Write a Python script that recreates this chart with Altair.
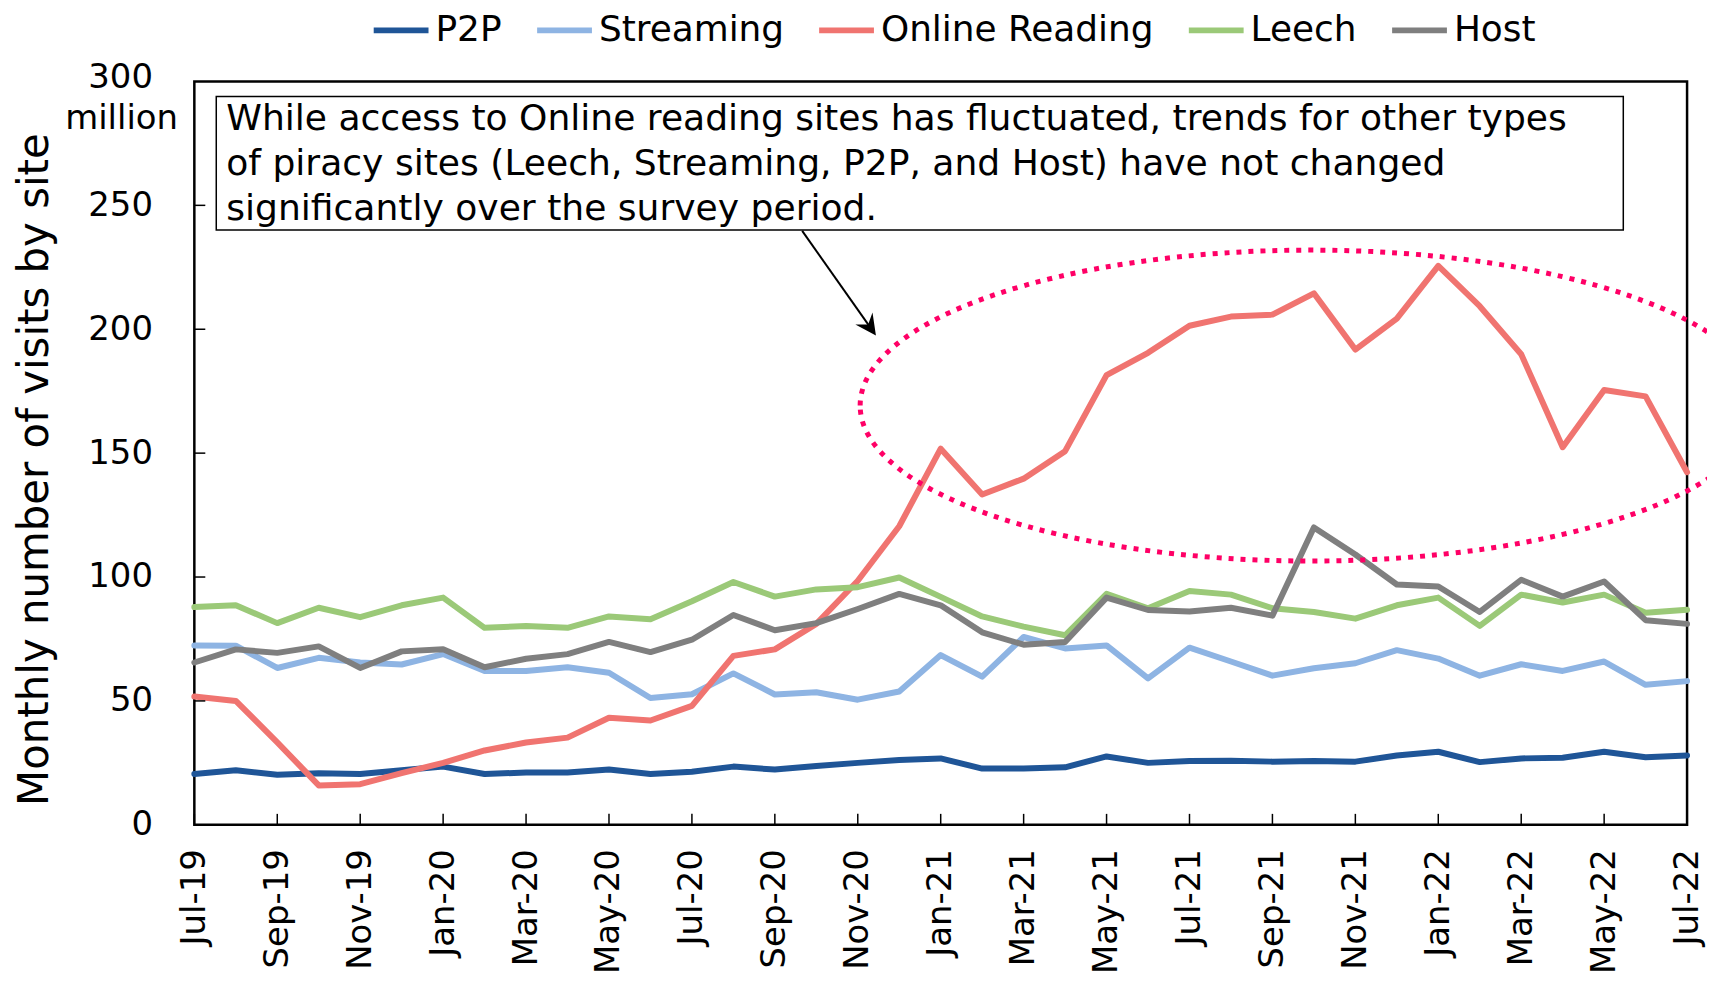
import altair as alt
import pandas as pd

months = ["Jul-19", "Aug-19", "Sep-19", "Oct-19", "Nov-19", "Dec-19",
          "Jan-20", "Feb-20", "Mar-20", "Apr-20", "May-20", "Jun-20",
          "Jul-20", "Aug-20", "Sep-20", "Oct-20", "Nov-20", "Dec-20",
          "Jan-21", "Feb-21", "Mar-21", "Apr-21", "May-21", "Jun-21",
          "Jul-21", "Aug-21", "Sep-21", "Oct-21", "Nov-21", "Dec-21",
          "Jan-22", "Feb-22", "Mar-22", "Apr-22", "May-22", "Jun-22",
          "Jul-22"]

series_names = ["P2P", "Streaming", "Online Reading", "Leech", "Host"]
series_colors = ["#1F5597", "#8EB4E3", "#F07470", "#9BC978", "#7F7F7F"]

p2p = [20.5, 22, 20.2, 20.8, 20.5, 22, 23.5, 20.5, 21.1, 21.1, 22.3, 20.5,
       21.4, 23.5, 22.3, 23.7, 25, 26.2, 26.8, 22.7, 22.7, 23.2, 27.6, 25,
       25.8, 25.9, 25.5, 25.8, 25.5, 28, 29.5, 25.3, 26.8, 27.1, 29.5, 27.3,
       28]
streaming = [72.4, 72.3, 63.3, 67.4, 65.5, 64.7, 68.9, 62.1, 62.1, 63.6, 61.4,
             51.2, 52.7, 61.1, 52.6, 53.5, 50.5, 53.8, 68.5, 59.8, 75.8, 71.2,
             72.4, 59.1, 71.5, 65.9, 60.2, 63.2, 65.2, 70.5, 67.1, 60.2, 64.8,
             62.1, 65.9, 56.5, 58]
online_reading = [51.8, 50, 33.3, 15.9, 16.4, 20.9, 25, 30, 33.2, 35.2, 43.2,
                  42.1, 48, 68.2, 70.8, 81.1, 98.5, 120.5, 151.8, 133.3, 139.7,
                  150.8, 181.5, 190.5, 201.4, 205.1, 205.9, 214.5, 191.8, 204.3,
                  225.6, 209.3, 189.9, 152.4, 175.5, 172.9, 142.3]
leech = [87.9, 88.6, 81.4, 87.6, 83.8, 88.6, 91.7, 79.5, 80.2, 79.5, 84.1, 83,
         90.2, 98, 92.1, 95, 95.9, 99.8, 92, 84.1, 80, 76.5, 93.2, 87.4, 94.4,
         92.9, 87.4, 85.9, 83.2, 88.6, 91.7, 80.3, 92.9, 89.7, 92.9, 85.6, 86.8]
host = [65.5, 70.8, 69.4, 72, 63.3, 70, 70.9, 63.6, 67, 68.9, 73.8, 69.7, 74.7,
        84.7, 78.5, 81.4, 87.1, 93.2, 88.6, 77.7, 72.7, 73.8, 91.7, 86.7, 86.1,
        87.6, 84.4, 120, 109.1, 97, 96.2, 85.9, 98.9, 92.1, 98.2, 82.6, 81.1]

y_tick_values = [0, 50, 100, 150, 200, 250, 300]
x_tick_index = list(range(0, len(months), 2))

note_lines = [
    "While access to Online reading sites has fluctuated, trends for other types",
    "of piracy sites (Leech, Streaming, P2P, and Host) have not changed",
    "significantly over the survey period.",
]

FONT = "DejaVu Sans"
W, H = 1498, 746

# ---- data table ----
rows = []
for name, vals in zip(series_names,
                      [p2p, streaming, online_reading, leech, host]):
    for i, v in enumerate(vals):
        rows.append({"idx": i, "value": v, "series": name})
df = pd.DataFrame(rows)

label_expr = "[" + ",".join("'%s'" % m for m in months) + "][datum.value]"
x_scale = alt.Scale(domain=[0, len(months) - 1], nice=False, zero=False)
y_scale = alt.Scale(domain=[0, 300], nice=False, zero=True)

x_axis = alt.Axis(values=x_tick_index, labelExpr=label_expr,
                  labelAngle=270, labelPadding=24, labelFontSize=34,
                  labelColor="black", domain=False, ticks=False,
                  tickSize=0, grid=False, title=None,
                  labelOverlap=False, labelFlush=False)
y_axis = alt.Axis(values=y_tick_values, labelPadding=42,
                  labelFontSize=34, labelColor="black", domain=False,
                  ticks=False, tickSize=0, grid=False,
                  labelOffset=alt.condition("datum.value == 300",
                                            alt.value(-4), alt.value(0)),
                  title="Monthly number of visits by site",
                  titleFontSize=42, titleFontWeight="normal",
                  titleColor="black", titleAngle=270, titleX=-160,
                  titleY=389, titleAlign="center",
                  titleBaseline="middle", labelOverlap=False)

lines = alt.Chart(df).mark_line(strokeWidth=6, strokeCap="round",
                                strokeJoin="round").encode(
    x=alt.X("idx:Q", scale=x_scale, axis=x_axis),
    y=alt.Y("value:Q", scale=y_scale, axis=y_axis),
    color=alt.Color("series:N",
                    scale=alt.Scale(domain=series_names, range=series_colors),
                    sort=series_names,
                    legend=alt.Legend(orient="none", legendX=177, legendY=-82,
                                      direction="horizontal", title=None,
                                      symbolType="stroke", symbolSize=3025,
                                      symbolStrokeWidth=6, labelFontSize=36,
                                      labelColor="black", labelOffset=4,
                                      columnPadding=23, labelLimit=0)),
    detail="series:N",
)

# inward tick marks
xt = alt.Chart(pd.DataFrame({"idx": x_tick_index})).mark_rule(
    color="black", strokeWidth=1.5).encode(
    x=alt.X("idx:Q", scale=x_scale, axis=x_axis),
    y=alt.value(H), y2=alt.value(H - 11))
yt = alt.Chart(pd.DataFrame({"value": y_tick_values[1:-1]})).mark_rule(
    color="black", strokeWidth=1.5).encode(
    y=alt.Y("value:Q", scale=y_scale, axis=y_axis),
    x=alt.value(0), x2=alt.value(11))

million = alt.Chart().mark_text(text="million", fontSize=34, align="center",
                                baseline="alphabetic", color="black").encode(
    x=alt.value(-73), y=alt.value(48))

# highlight ellipse (dotted)
k = 0.5523
ry = 156 / 452
ell_path = ("M -1 0 C -1 {a} -{k} {b} 0 {b} C {k} {b} 1 {a} 1 0 "
            "C 1 {c} {k} {d} 0 {d} C -{k} {d} -1 {c} -1 0 Z").format(
    a=-k * ry, b=-ry, c=k * ry, d=ry, k=k)
ellipse = alt.Chart().mark_point(shape=ell_path, size=904 ** 2, filled=False,
                                 fill="transparent", stroke="#FF0066",
                                 strokeWidth=5, strokeDash=[5, 7],
                                 opacity=1).encode(
    x=alt.X(datum=26.92, scale=x_scale, axis=x_axis),
    y=alt.Y(datum=169.2, scale=y_scale, axis=y_axis))

box = alt.Chart().mark_rect(fill="white", stroke="black",
                            strokeWidth=1.5).encode(
    x=alt.value(22), x2=alt.value(1434), y=alt.value(15), y2=alt.value(149))
note = alt.Chart().mark_text(text=note_lines, align="left",
                             baseline="alphabetic", fontSize=36.2,
                             lineHeight=45, color="black").encode(
    x=alt.value(32), y=alt.value(49))

arrow_line = alt.Chart().mark_rule(color="black", strokeWidth=2).encode(
    x=alt.value(610), y=alt.value(150), x2=alt.value(682), y2=alt.value(252))
arrow_head = alt.Chart().mark_point(
    shape="M 0 0 L -0.5 -1 L 0 -0.65 L 0.5 -1 Z", size=1764, filled=True,
    fill="black", strokeWidth=0, opacity=1, angle=325).encode(
    x=alt.value(684), y=alt.value(255))

chart = alt.layer(lines, xt, yt, ellipse, box, note, arrow_line, arrow_head,
                  million).properties(
    width=W, height=H,
    autosize=alt.AutoSizeParams(type="none"),
    padding={"left": 187, "top": 72, "right": 20, "bottom": 150},
    background="white",
).configure(font=FONT).configure_view(stroke="black", strokeWidth=2.5)

chart.save("out.html", embed_options={"renderer": "svg", "actions": False})
